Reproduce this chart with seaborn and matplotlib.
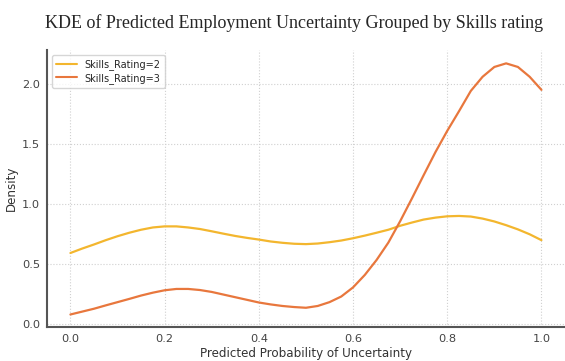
import matplotlib
matplotlib.use("Agg")
import matplotlib.pyplot as plt
import seaborn as sns
import pandas as pd

x_vals = [0.000, 0.025, 0.050, 0.075, 0.100, 0.125, 0.150, 0.175, 0.200, 0.225,
          0.250, 0.275, 0.300, 0.325, 0.350, 0.375, 0.400, 0.425, 0.450, 0.475,
          0.500, 0.525, 0.550, 0.575, 0.600, 0.625, 0.650, 0.675, 0.700, 0.725,
          0.750, 0.775, 0.800, 0.825, 0.850, 0.875, 0.900, 0.925, 0.950, 0.975,
          1.000]
rating2 = [0.593, 0.630, 0.664, 0.700, 0.733, 0.762, 0.787, 0.806, 0.815, 0.815,
           0.806, 0.793, 0.774, 0.754, 0.735, 0.719, 0.705, 0.689, 0.678, 0.670,
           0.667, 0.672, 0.683, 0.697, 0.716, 0.738, 0.762, 0.787, 0.820, 0.847,
           0.872, 0.888, 0.899, 0.902, 0.897, 0.880, 0.856, 0.825, 0.790, 0.749,
           0.700]
rating3 = [0.080, 0.104, 0.128, 0.156, 0.183, 0.210, 0.238, 0.262, 0.282, 0.293,
           0.293, 0.284, 0.268, 0.246, 0.224, 0.202, 0.180, 0.164, 0.151, 0.142,
           0.136, 0.151, 0.183, 0.230, 0.306, 0.410, 0.535, 0.680, 0.858, 1.048,
           1.243, 1.435, 1.612, 1.776, 1.945, 2.063, 2.145, 2.175, 2.145, 2.063,
           1.954]
labels = ["Skills_Rating=2", "Skills_Rating=3"]
colors = ["#F3B62E", "#E8773D"]

df = pd.DataFrame({
    "x": x_vals * 2,
    "density": rating2 + rating3,
    "group": [labels[0]] * len(x_vals) + [labels[1]] * len(x_vals),
})

sns.set_style("whitegrid", {"grid.linestyle": ":", "grid.color": "#d0d0d0"})
plt.rcParams["font.family"] = ["DejaVu Sans"]

fig = plt.figure(figsize=(5.65, 3.61), dpi=100)
ax = fig.add_axes([0.083, 0.094, 0.917, 0.767])
sns.lineplot(data=df, x="x", y="density", hue="group", palette=colors,
             linewidth=1.6, ax=ax)

ax.set_xlim(-0.05, 1.05)
ax.set_ylim(-0.025, 2.285)
ax.set_xticks([0.0, 0.2, 0.4, 0.6, 0.8, 1.0])
ax.set_yticks([0.0, 0.5, 1.0, 1.5, 2.0])
ax.tick_params(axis="both", labelsize=8.2, colors="#444444", length=3, width=0.8,
               direction="out", pad=2)
for s in ["top", "right"]:
    ax.spines[s].set_visible(False)
for s in ["left", "bottom"]:
    ax.spines[s].set_color("#555555")
    ax.spines[s].set_linewidth(1.5)
ax.set_xlabel("Predicted Probability of Uncertainty", fontsize=8.6, color="#333333")
ax.xaxis.set_label_coords(0.5, -0.072)
ax.set_ylabel("Density", fontsize=8.6, color="#333333", labelpad=3)
leg = ax.legend(loc="upper left", fontsize=7, frameon=True, title=None,
                handlelength=2.2, borderpad=0.4, labelspacing=0.3)
for line in leg.get_lines():
    line.set_linewidth(1.5)
fig.suptitle("KDE of Predicted Employment Uncertainty Grouped by Skills rating",
             x=0.52, y=0.962, fontsize=13, family="Liberation Serif")
fig.savefig("out.png", dpi=100)
